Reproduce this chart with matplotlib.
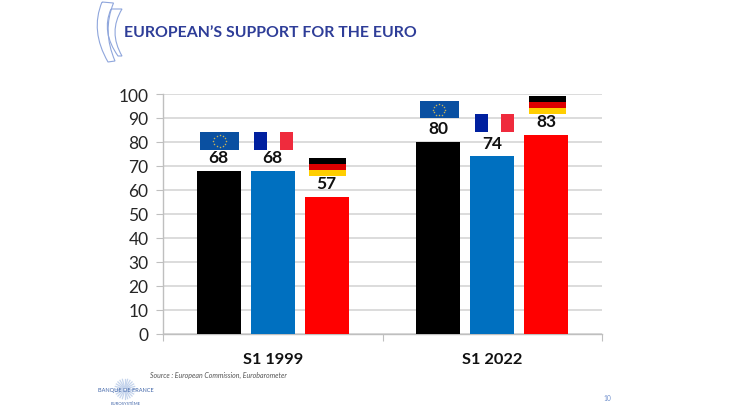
import numpy as np
import matplotlib
matplotlib.use("Agg")
import matplotlib.pyplot as plt
from matplotlib.patches import Rectangle, PathPatch
from matplotlib.path import Path

plt.rcParams['font.family'] = ['Lato', 'DejaVu Sans']

# donnees
periods = ["S1 1999", "S1 2022"]
euro_area = [68, 80]
france = [68, 74]
germany = [57, 83]
y_ticks = list(range(0, 101, 10))
title = "EUROPEAN\u2019S SUPPORT FOR THE EURO"
source = "Source : European Commission, Eurobarometer"
page = "10"

W, H = 730, 410
fig = plt.figure(figsize=(W / 100, H / 100), dpi=100, facecolor="white")

# zone du graphique, en pixels de l'image
left, right, top, bottom = 163, 602, 95, 334.8
ax = fig.add_axes([left / W, 1 - bottom / H, (right - left) / W, (bottom - top) / H])
ax.set_xlim(0, 2)
ax.set_ylim(0, 100)

bar_w = 0.2
step = 0.246
x = np.arange(len(periods)) + 0.5

ax.bar(x - step, euro_area, bar_w, color="black", zorder=3)
ax.bar(x, france, bar_w, color="#0070C0", zorder=3)
ax.bar(x + step, germany, bar_w, color="#FF0000", zorder=3)

ax.set_yticks(y_ticks)
ax.grid(axis="y", color="#D9D9D9", lw=1.3, zorder=0)
ax.set_axisbelow(True)
for s in ["top", "right"]:
    ax.spines[s].set_visible(False)
for s in ["left", "bottom"]:
    ax.spines[s].set_color("#BFBFBF")
    ax.spines[s].set_linewidth(1)
ax.tick_params(axis="y", length=5, color="#BFBFBF", labelsize=12.5, labelcolor="#262626", pad=5.5)
ax.set_xticks([0, 1, 2])
ax.set_xticklabels([])
ax.tick_params(axis="x", length=5, color="#BFBFBF")

for c, name in zip(x, periods):
    ax.annotate(name, (c, 0), xytext=(0, -29), textcoords="offset pixels", ha="center",
                va="baseline", fontsize=11.8, fontweight="bold", color="#111111")


def flag_eu(cx, y0):
    w, h = 0.178, 7.4
    ax.add_patch(Rectangle((cx - w / 2, y0), w, h, color="#0A50A1", zorder=4, lw=0))
    ang = np.linspace(0, 2 * np.pi, 12, endpoint=False)
    ax.scatter(cx + 0.028 * np.cos(ang), y0 + h / 2 + 2.4 * np.sin(ang), s=1.2,
               color="#C9B458", lw=0, zorder=5)


def flag_fr(cx, y0):
    w, h = 0.178, 7.4
    ax.add_patch(Rectangle((cx - w / 2, y0), w / 3, h, color="#00209F", zorder=4, lw=0))
    ax.add_patch(Rectangle((cx + w / 2 - w / 3, y0), w / 3, h, color="#EF2B3D", zorder=4, lw=0))


def flag_de(cx, y0):
    w, h = 0.168, 2.5
    for i, col in enumerate(["#FFCE00", "#DD0000", "#000000"]):
        ax.add_patch(Rectangle((cx - w / 2, y0 + i * h), w, h, color=col, zorder=4, lw=0))


flag_shift = [
    [8.8, 8.8, 8.9],
    [9.8, 10.3, 8.8],
]
for i, c in enumerate(x):
    vals = [euro_area[i], france[i], germany[i]]
    for j, (v, fn) in enumerate(zip(vals, [flag_eu, flag_fr, flag_de])):
        bx = c + (j - 1) * step
        ax.text(bx, v + 2.4, str(v), ha="center", va="bottom", fontsize=12.5,
                fontweight="bold", color="#111111", zorder=6)
        fn(bx + (0.012 if (i, j) == (1, 1) else 0.004), v + flag_shift[i][j])

# habillage de la diapo : crochets, titre, source, logo
deco = fig.add_axes([0, 0, 1, 1], zorder=-1)
deco.set_xlim(0, W)
deco.set_ylim(H, 0)
deco.axis("off")

line_blue = "#8FA6DC"
C3 = Path.CURVE3
outer = Path([(102, 3), (113.5, 4), (102, 32), (115, 62), (108, 63), (90, 32), (102, 3)],
             [Path.MOVETO, Path.LINETO, C3, C3, Path.LINETO, C3, C3])
inner = Path([(111, 10), (122, 10), (108, 33), (122, 57), (118, 57), (101, 33), (111, 10)],
             [Path.MOVETO, Path.LINETO, C3, C3, Path.LINETO, C3, C3])
deco.add_patch(PathPatch(outer, fill=False, ec=line_blue, lw=0.8))
deco.add_patch(PathPatch(inner, fill=False, ec=line_blue, lw=0.8))

deco.text(124, 33, title, fontsize=11.4, fontweight="bold", color="#2E3D98", ha="left", va="center")
deco.text(150, 375.5, source, fontsize=5, style="italic", color="#555555", ha="left", va="center")
deco.text(607, 398.5, page, fontsize=4.8, color="#6F8FCC", ha="center", va="center")

# logo Banque de France
for a in np.linspace(0, 2 * np.pi, 24, endpoint=False):
    deco.plot([125 + 2 * np.cos(a), 125 + 10 * np.cos(a)], [390 + 2 * np.sin(a), 390 + 10 * np.sin(a)],
              color="#C5D4EC", lw=0.9, zorder=1)
deco.text(125.5, 390.5, "BANQUE DE FRANCE", fontsize=4.1, color="#3F64A8", ha="center", va="center", zorder=2)
deco.text(125.5, 404.5, "EUROSYST\u00c8ME", fontsize=3.1, color="#3F64A8", ha="center", va="center", zorder=2)

fig.savefig("out.png", dpi=100)
